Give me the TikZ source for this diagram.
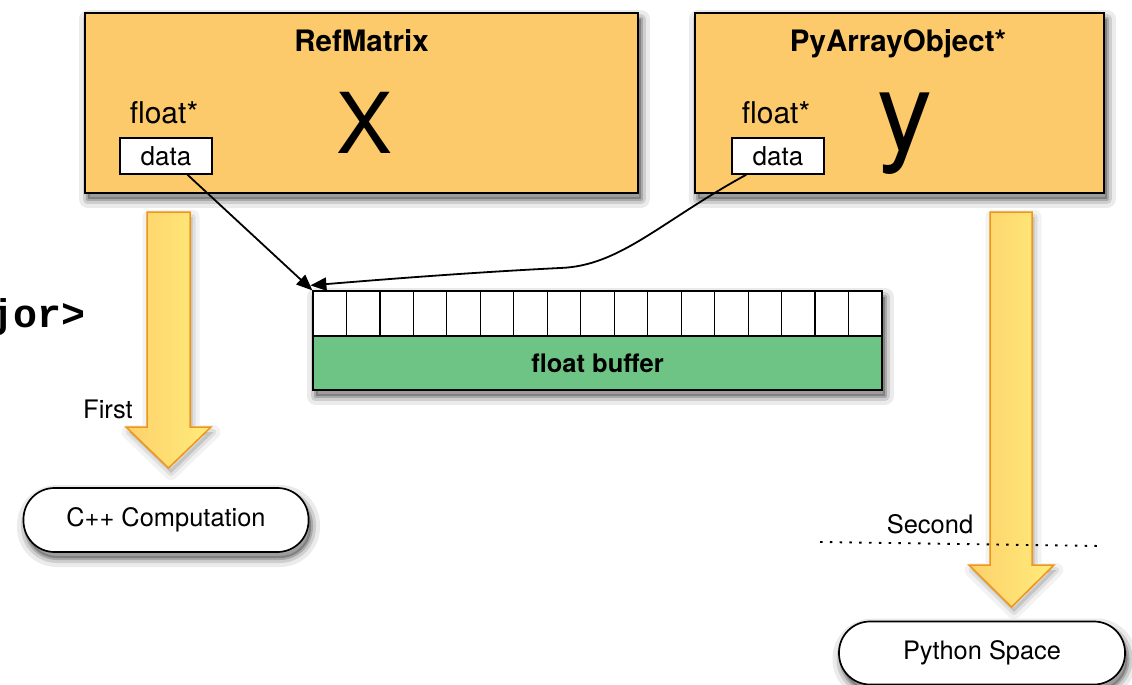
\documentclass[tikz,border=0pt]{standalone}
\usepackage{fontspec}
\setmainfont{TeX Gyre Heros}
\newfontfamily\codefont{Liberation Mono}
\usetikzlibrary{arrows.meta,calc}

\definecolor{objfill}{RGB}{252,201,107}
\definecolor{buffill}{RGB}{110,196,132}
\definecolor{flowA}{RGB}{253,208,108}
\definecolor{flowB}{RGB}{255,236,122}
\definecolor{flowedge}{RGB}{240,150,20}

\newcommand{\fsz}[1]{\fontsize{#1}{#1}\selectfont}

\tikzset{
  % soft drop shadow built from a few translucent layers
  shadowed/.style={
    preaction={fill=black, fill opacity=0.24, draw=black, draw opacity=0.08,
      line width=18pt, line join=round,
      transform canvas={shift={(2.5pt,-6pt)}}},
    preaction={draw=black, draw opacity=0.12, line width=10pt, line join=round,
      transform canvas={shift={(2.5pt,-6pt)}}},
    preaction={draw=black, draw opacity=0.18, line width=4pt, line join=round,
      transform canvas={shift={(2.5pt,-6pt)}}}},
  lightshadow/.style={
    preaction={fill=black, fill opacity=0.12, draw=black, draw opacity=0.05,
      line width=14pt, line join=round,
      transform canvas={shift={(2.5pt,-5pt)}}},
    preaction={draw=black, draw opacity=0.08, line width=6pt, line join=round,
      transform canvas={shift={(2.5pt,-5pt)}}}},
  objbox/.style={draw, line width=1.6pt, fill=objfill, shadowed, inner sep=0pt},
  title/.style={font=\bfseries\fsz{29.5}, anchor=base},
  typelbl/.style={font=\fsz{30}, anchor=base},
  bigvar/.style={anchor=base, inner sep=0pt},
  fieldbox/.style={draw, line width=1.4pt, fill=white, inner sep=0pt,
      minimum width=92pt, minimum height=36pt, font=\fsz{26}},
  cell/.style={draw, line width=1.2pt, fill=white, inner sep=0pt,
      minimum width=33.47pt, minimum height=45pt},
  bufbody/.style={draw, line width=1.5pt, fill=buffill, inner sep=0pt,
      minimum width=569pt, minimum height=54pt, font=\bfseries\fsz{25.5}},
  ptr/.style={line width=1.8pt, -{Triangle[length=16pt,width=13pt]}},
  flow/.style={left color=flowA, right color=flowB, draw=flowedge,
      line width=1.5pt, line join=miter},
  place/.style={draw, line width=1.7pt, fill=white, rounded corners=31pt,
      inner sep=0pt, font=\fsz{25.4}, shadowed},
  steplbl/.style={font=\fsz{25.5}, anchor=base},
}

\begin{document}
\begin{tikzpicture}[x=1pt,y=-1pt]
\useasboundingbox (0,0) rectangle (1132,685);

% partially visible template argument on the left edge
\node[font=\codefont\bfseries\fsz{40}, anchor=base east, inner sep=0pt]
  (tmpl) at (86,327) {jor>};

% order of use (drawn first so the objects sit on top of their shadows)
\path[lightshadow] (147,212) -- (190,212) -- (190,427) -- (211,427)
  -- (168.5,468) -- (126,427) -- (147,427) -- cycle;
\shadedraw[flow] (147,212) -- (190,212) -- (190,427) -- (211,427)
  -- (168.5,468) -- (126,427) -- (147,427) -- cycle;
\path[lightshadow] (990,212) -- (1032,212) -- (1032,565) -- (1054,565)
  -- (1011.5,607) -- (969,565) -- (990,565) -- cycle;
\shadedraw[flow] (990,212) -- (1032,212) -- (1032,565) -- (1054,565)
  -- (1011.5,607) -- (969,565) -- (990,565) -- cycle;

% the two objects that share one buffer
\node[objbox, minimum width=553pt, minimum height=180pt] (refm) at (361.5,103) {};
\node[title] (refmT) at (361.5,52) {RefMatrix};
\node[typelbl] (refmF) at (164,123) {float*};
\node[fieldbox] (dataL) at (166,156) {data};
\node[bigvar, font=\fsz{84}] (varX) at (365,153) {X};

\node[objbox, minimum width=409pt, minimum height=180pt] (pyobj) at (899.5,103) {};
\node[title] (pyobjT) at (898,52) {PyArrayObject*};
\node[typelbl] (pyobjF) at (776,123) {float*};
\node[fieldbox] (dataR) at (778,156) {data};
\node[bigvar, font=\fsz{110}] (varY) at (905,150) {y};

% the shared float buffer
\path[shadowed, fill=white] (313,291) rectangle (882,390);
\foreach \i in {0,...,16}
  \node[cell] (c\i) at ({313+33.47*\i+16.735},313.5) {};
\node[bufbody] (buf) at (597.5,363) {float buffer};

% data pointers into the buffer
\coordinate (srcL) at ($(dataL.south west)!0.73!(dataL.south east)$);
\coordinate (srcR) at ($(dataR.south west)!0.16!(dataR.south east)$);
\coordinate (tipR) at ($(c0.north west)+(-2,-5)$);
\draw[ptr] (srcL) -- (c0.north west);
\draw[ptr] (srcR) .. controls (660,222) and (620,266) .. (560,268)
  .. controls (480,272) and (400,278) .. (tipR);

\node[steplbl] (first) at (108,418) {First};
\node[steplbl] (second) at (930,533) {Second};
\coordinate (sepA) at (820,542);
\coordinate (sepB) at (1100,546);
\draw[line width=1.9pt, dash pattern=on 2.5pt off 7.3pt] (sepA) -- (sepB);

\node[place, minimum width=285pt, minimum height=64pt] (cpp) at (166,520) {C++ Computation};
\node[place, minimum width=286pt, minimum height=63pt] (py) at (982,653) {Python Space};
\end{tikzpicture}
\end{document}
